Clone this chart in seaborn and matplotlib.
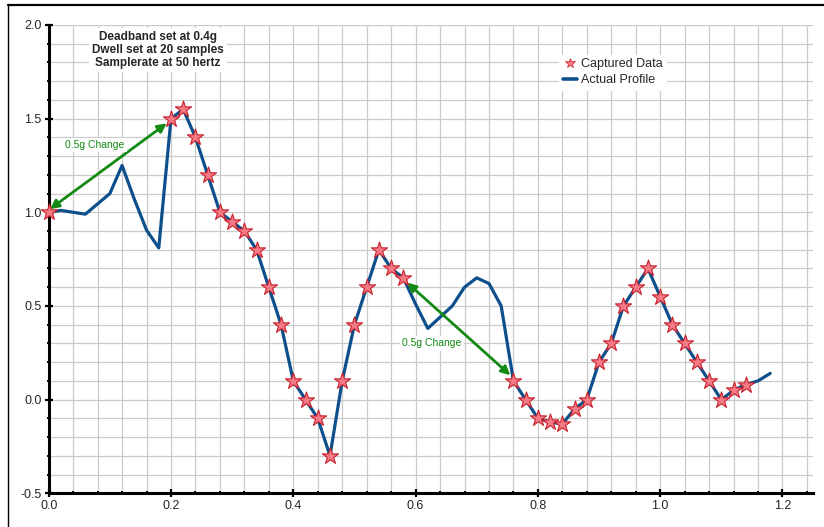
import numpy as np
import pandas as pd
import matplotlib
matplotlib.use("Agg")
import matplotlib.pyplot as plt
from matplotlib.lines import Line2D
from matplotlib.ticker import MultipleLocator
import seaborn as sns

# ---- data ----
profile_t = [0.00, 0.02, 0.04, 0.06, 0.08, 0.10, 0.12, 0.14, 0.16, 0.18,
             0.20, 0.22, 0.24, 0.26, 0.28, 0.30, 0.32, 0.34, 0.36, 0.38,
             0.40, 0.42, 0.44, 0.46, 0.48, 0.50, 0.52, 0.54, 0.56, 0.58,
             0.60, 0.62, 0.64, 0.66, 0.68, 0.70, 0.72, 0.74, 0.76, 0.78,
             0.80, 0.82, 0.84, 0.86, 0.88, 0.90, 0.92, 0.94, 0.96, 0.98,
             1.00, 1.02, 1.04, 1.06, 1.08, 1.10, 1.12, 1.14, 1.16, 1.18]
profile_g = [1.00, 1.01, 1.00, 0.99, 1.045, 1.10, 1.25, 1.07, 0.905, 0.81,
             1.50, 1.55, 1.40, 1.20, 1.00, 0.95, 0.90, 0.80, 0.60, 0.40,
             0.10, 0.00, -0.10, -0.30, 0.10, 0.40, 0.60, 0.80, 0.70, 0.65,
             0.51, 0.38, 0.44, 0.50, 0.60, 0.65, 0.62, 0.50, 0.10, 0.00,
             -0.10, -0.12, -0.13, -0.05, 0.00, 0.20, 0.30, 0.50, 0.60, 0.70,
             0.55, 0.40, 0.30, 0.20, 0.10, 0.00, 0.05, 0.08, 0.10, 0.14]

captured_t = [0.00,
              0.20, 0.22, 0.24, 0.26, 0.28, 0.30, 0.32, 0.34, 0.36, 0.38,
              0.40, 0.42, 0.44, 0.46, 0.48, 0.50, 0.52, 0.54, 0.56, 0.58,
              0.76, 0.78, 0.80, 0.82, 0.84, 0.86, 0.88, 0.90, 0.92, 0.94,
              0.96, 0.98, 1.00, 1.02, 1.04, 1.06, 1.08, 1.10, 1.12, 1.14]
captured_g = [1.00,
              1.50, 1.55, 1.40, 1.20, 1.00, 0.95, 0.90, 0.80, 0.60, 0.40,
              0.10, 0.00, -0.10, -0.30, 0.10, 0.40, 0.60, 0.80, 0.70, 0.65,
              0.10, 0.00, -0.10, -0.12, -0.13, -0.05, 0.00, 0.20, 0.30, 0.50,
              0.60, 0.70, 0.55, 0.40, 0.30, 0.20, 0.10, 0.00, 0.05, 0.08]

x_ticks = [0.0, 0.2, 0.4, 0.6, 0.8, 1.0, 1.2]
y_ticks = [-0.5, 0.0, 0.5, 1.0, 1.5, 2.0]

info_lines = ["Deadband set at 0.4g", "Dwell set at 20 samples", "Samplerate at 50 hertz"]
change_label = "0.5g Change"
arrow1 = [(0.002, 1.017), (0.193, 1.475)]
arrow2 = [(0.586, 0.625), (0.755, 0.13)]

# ---- style ----
sns.set_theme(style="white")
plt.rcParams['font.family'] = ['Liberation Sans', 'DejaVu Sans']

fig = plt.figure(figsize=(8.24, 5.27), dpi=100)
ax = fig.add_axes([0.0591, 0.064, 0.9276, 0.8886])

line_color = "#0d4f8b"
star_face = "#f47a85"
star_edge = "#c8202c"
green = "#138a13"

prof = pd.DataFrame({"t": profile_t, "g": profile_g})
capt = pd.DataFrame({"t": captured_t, "g": captured_g})

sns.lineplot(data=prof, x="t", y="g", ax=ax, color=line_color, linewidth=2.3,
             label="Actual Profile", zorder=3, sort=False)
sc = sns.scatterplot(data=capt, x="t", y="g", ax=ax, marker="*", s=150,
                     color=star_face, edgecolor=star_edge, linewidth=0.8,
                     label="Captured Data", zorder=5)
for coll in ax.collections:
    coll.set_clip_on(False)

ax.set_xlim(0, 1.25)
ax.set_ylim(-0.5, 2.0)
ax.set_xticks(x_ticks)
ax.set_yticks(y_ticks)
ax.xaxis.set_minor_locator(MultipleLocator(0.04))
ax.yaxis.set_minor_locator(MultipleLocator(0.1))
ax.set_xticklabels([f"{v:.1f}" for v in x_ticks])
ax.set_yticklabels([f"{v:.1f}" for v in y_ticks])
ax.grid(True, which="both", color="#cbcbcb", linewidth=0.9)
ax.set_axisbelow(True)
ax.set_xlabel("")
ax.set_ylabel("")

for side in ["top", "right"]:
    ax.spines[side].set_visible(False)
for side in ["left", "bottom"]:
    ax.spines[side].set_color("black")
    ax.spines[side].set_linewidth(2.2)

ax.tick_params(which="major", direction="inout", length=6, width=1.6,
               color="black", labelsize=9, pad=2, bottom=True, left=True)
ax.tick_params(which="minor", direction="inout", length=3, width=1.4,
               color="black", bottom=True, left=True)

# legend
handles = [Line2D([], [], marker="*", linestyle="none", markersize=7,
                  markerfacecolor=star_face, markeredgecolor=star_edge,
                  markeredgewidth=0.5),
           Line2D([], [], color=line_color, linewidth=2.6)]
leg = ax.legend(handles, ["Captured Data", "Actual Profile"],
                loc="upper left", bbox_to_anchor=(0.66, 0.95),
                frameon=True, fontsize=9, handlelength=1.1, handletextpad=0.3,
                labelspacing=0.3, borderpad=0.3, fancybox=False)
leg.get_frame().set_facecolor("white")
leg.get_frame().set_edgecolor("white")
leg.get_frame().set_alpha(1)

# info text
ax.text(0.179, 1.866, "\n".join(info_lines), ha="center", va="center",
        fontsize=8.5, fontweight="bold", linespacing=1.15, zorder=6,
        bbox=dict(facecolor="white", edgecolor="none", pad=2))

# arrows
for (p0, p1) in [arrow1, arrow2]:
    ax.annotate("", xy=p1, xytext=p0, zorder=4,
                arrowprops=dict(arrowstyle="<|-|>", color=green, lw=2.0,
                                mutation_scale=13, shrinkA=0, shrinkB=0))

ax.text(0.076, 1.36, change_label, ha="center", va="center", fontsize=7.5,
        color=green, zorder=6,
        bbox=dict(facecolor="white", edgecolor="none", pad=1.5))
ax.text(0.627, 0.30, change_label, ha="center", va="center", fontsize=7.5,
        color=green, zorder=6,
        bbox=dict(facecolor="white", edgecolor="none", pad=1.5))

# figure border
fig.add_artist(Line2D([8 / 824, 1.0], [1 - 5 / 527, 1 - 5 / 527],
                      transform=fig.transFigure, color="black", linewidth=1.6))
fig.add_artist(Line2D([8 / 824, 8 / 824], [0.0, 1 - 5 / 527],
                      transform=fig.transFigure, color="black", linewidth=1.0))

fig.savefig("out.png", dpi=100)
